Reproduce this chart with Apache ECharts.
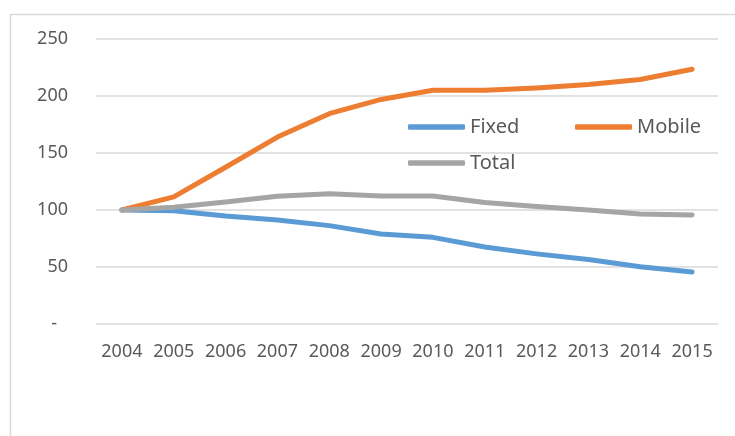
<!DOCTYPE html>
<html>
<head>
<meta charset="utf-8">
<script src="https://cdn.jsdelivr.net/npm/echarts@6/dist/echarts.min.js"></script>
<style>html,body{margin:0;padding:0;background:#fff;}#c{width:735px;height:436px;}</style>
</head>
<body>
<div id="c"></div>
<script>
var years = ['2004','2005','2006','2007','2008','2009','2010','2011','2012','2013','2014','2015'];
var fixed = [100, 99.4, 94.7, 91.2, 86.3, 79, 76, 67.5, 61.5, 56.5, 50.3, 45.6];
var mobile = [100, 111.5, 137.5, 164, 184.5, 197, 205, 205, 207, 210, 214.5, 223.5];
var total = [100, 102.5, 107, 112, 114.3, 112.3, 112.3, 106.5, 103, 100, 96.5, 95.6];
var seriesNames = ['Fixed', 'Mobile', 'Total'];
var colors = ['#5B9BD5', '#ED7D31', '#A5A5A5'];

var chart = echarts.init(document.getElementById('c'));
var font = 'Noto Sans';
var legendBase = {
  orient: 'horizontal',
  padding: 0,
  icon: 'roundRect',
  itemWidth: 57,
  itemHeight: 5.5,
  itemGap: 10,
  textStyle: { color: '#595959', fontSize: 20, fontFamily: font, lineHeight: 20 }
};
function mkSeries(name, data, color) {
  return {
    name: name, type: 'line', data: data, symbol: 'none', smooth: false,
    lineStyle: { color: color, width: 5, cap: 'round', join: 'round' },
    itemStyle: { color: color }
  };
}
chart.setOption({
  animation: false,
  color: colors,
  graphic: [{
    type: 'rect', left: 8, top: 12, z: -1,
    shape: { x: 0, y: 0, width: 800, height: 500 },
    style: { fill: 'none', stroke: '#d9d9d9', lineWidth: 1.5 }
  }],
  grid: { left: 96, right: 17, top: 39, bottom: 112, containLabel: false },
  legend: [
    Object.assign({}, legendBase, { data: [seriesNames[0]], left: 408, top: 117 }),
    Object.assign({}, legendBase, { data: [seriesNames[1]], left: 575, top: 117 }),
    Object.assign({}, legendBase, { data: [seriesNames[2]], left: 408, top: 153 })
  ],
  xAxis: {
    type: 'category', data: years, boundaryGap: true,
    axisLine: { show: false }, axisTick: { show: false },
    axisLabel: { color: '#595959', fontSize: 18, fontFamily: font, margin: 19, interval: 0 }
  },
  yAxis: {
    type: 'value', min: 0, max: 250, interval: 50,
    axisLine: { show: false }, axisTick: { show: false },
    splitLine: { lineStyle: { color: '#d9d9d9', width: 1.5 } },
    axisLabel: {
      color: '#595959', fontSize: 18, fontFamily: font, margin: 28,
      formatter: function (v) { return v === 0 ? '{d|-}' : String(v); },
      rich: { d: { color: '#595959', fontSize: 18, fontFamily: font, padding: [0, 11, 0, 0] } }
    }
  },
  series: [
    mkSeries(seriesNames[0], fixed, colors[0]),
    mkSeries(seriesNames[1], mobile, colors[1]),
    mkSeries(seriesNames[2], total, colors[2])
  ]
});
</script>
</body>
</html>
